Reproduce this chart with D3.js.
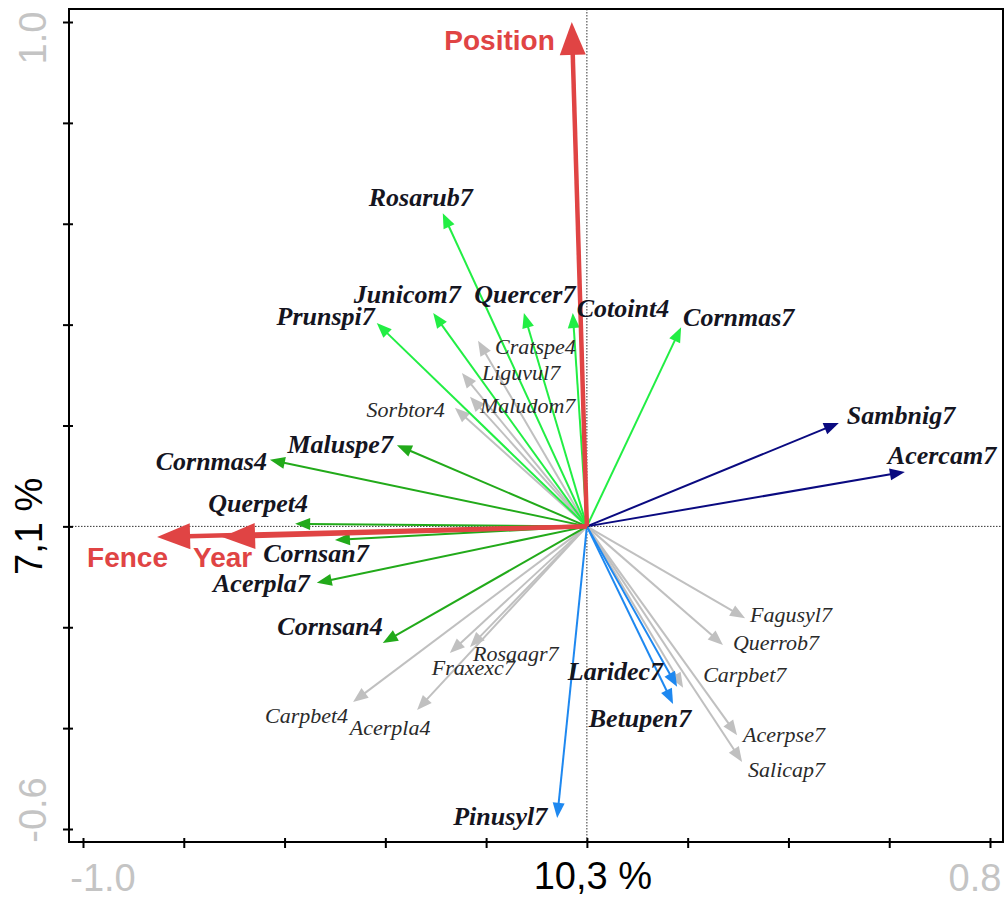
<!DOCTYPE html>
<html>
<head>
<meta charset="utf-8">
<script src="https://cdn.jsdelivr.net/npm/d3@7"></script>
<style>
  body { margin: 0; background: #fff; }
  svg { display: block; }
</style>
</head>
<body>
<svg width="1006" height="899"></svg>
<script>
// environmental vectors
var envNames = ["Position", "Fence", "Year"];
var envX = [-0.030, -0.853, -0.724];
var envY = [1.000, -0.021, -0.021];

// species vectors (group: light, dark, navy, blue, grey)
var spNames = ["Rosarub7", "Junicom7", "Quercer7", "Cotoint4", "Prunspi7", "Cornmas7",
  "Maluspe7", "Cornmas4", "Querpet4", "Cornsan7", "Acerpla7", "Cornsan4",
  "Sambnig7", "Acercam7",
  "Pinusyl7", "Laridec7", "Betupen7",
  "Cratspe4", "Liguvul7", "Maludom7", "Sorbtor4", "Rosaagr7", "Fraxexc7", "Carpbet4", "Acerpla4",
  "Fagusyl7", "Querrob7", "Carpbet7", "Acerpse7", "Salicap7"];
var spX = [-0.286, -0.305, -0.125, -0.028, -0.417, 0.187,
  -0.377, -0.629, -0.579, -0.500, -0.536, -0.405,
  0.500, 0.631,
  -0.059, 0.179, 0.171,
  -0.216, -0.248, -0.232, -0.262, -0.232, -0.272, -0.464, -0.337,
  0.314, 0.270, 0.191, 0.298, 0.308];
var spY = [0.621, 0.423, 0.423, 0.423, 0.403, 0.395,
  0.161, 0.132, 0.005, -0.027, -0.112, -0.231,
  0.205, 0.108,
  -0.578, -0.318, -0.352,
  0.368, 0.304, 0.257, 0.235, -0.239, -0.251, -0.348, -0.364,
  -0.182, -0.235, -0.320, -0.414, -0.467];
var spGroup = ["light", "light", "light", "light", "light", "light",
  "dark", "dark", "dark", "dark", "dark", "dark",
  "navy", "navy",
  "blue", "blue", "blue",
  "grey", "grey", "grey", "grey", "grey", "grey", "grey", "grey",
  "grey", "grey", "grey", "grey", "grey"];

var xTicks = [-1.0, -0.8, -0.6, -0.4, -0.2, 0, 0.2, 0.4, 0.6, 0.8];
var yTicks = [1.0, 0.8, 0.6, 0.4, 0.2, 0, -0.2, -0.4, -0.6];
var xTitle = "10,3 %";
var yTitle = "7,1 %";

// label placement relative to arrow tip: [anchor, dx, dy]
var labelPos = {
  Rosarub7: ["middle", -22, -7], Junicom7: ["middle", -26, -10], Quercer7: ["middle", 1, -10],
  Cotoint4: ["start", 4, 4], Prunspi7: ["end", -2, 2], Cornmas7: ["start", 2, -1],
  Maluspe7: ["end", -4, 8], Cornmas4: ["end", -3, 10], Querpet4: ["middle", -37, -12],
  Cornsan7: ["middle", -19, 22], Acerpla7: ["end", -7, 9], Cornsan4: ["end", 0, -8],
  Sambnig7: ["start", 8, 1], Acercam7: ["start", -17, -8],
  Pinusyl7: ["end", -10, 7], Laridec7: ["end", -14, -7], Betupen7: ["middle", -33, 23],
  Cratspe4: ["start", 17, 13], Liguvul7: ["start", 20, 7], Maludom7: ["start", 10, 16],
  Sorbtor4: ["end", -10, 9], Rosaagr7: ["start", 3, 14], Fraxexc7: ["start", -18, 22],
  Carpbet4: ["end", -5, 21], Acerpla4: ["middle", -27, 25],
  Fagusyl7: ["start", 5, 4], Querrob7: ["start", 10, 5], Carpbet7: ["start", 20, -6],
  Acerpse7: ["start", 6, 7], Salicap7: ["start", 6, 15],
  Position: ["end", -17, 28], Fence: ["start", -70, 30], Year: ["start", -29, 30]
};

var colors = { light: "#22ee44", dark: "#22aa1a", navy: "#0a0a80", blue: "#1e88f0", grey: "#c0c0c0", env: "#e04444" };

var svg = d3.select("svg");
var x = d3.scaleLinear().domain([-1.0, 0.8]).range([83, 990]);
var y = d3.scaleLinear().domain([1.0, -0.6]).range([22, 829]);
var pLeft = 69, pRight = 1003, pTop = 9, pBottom = 842;

// zero lines
svg.append("line").attr("x1", x(0)).attr("x2", x(0)).attr("y1", pTop).attr("y2", pBottom)
  .attr("stroke", "#333").attr("stroke-width", 1).attr("stroke-dasharray", "1.5,1.5");
svg.append("line").attr("x1", pLeft).attr("x2", pRight).attr("y1", y(0)).attr("y2", y(0))
  .attr("stroke", "#333").attr("stroke-width", 1).attr("stroke-dasharray", "1.5,1.5");

function arrow(g, x1, y1, len, half, color, width) {
  var x0 = x(0), y0 = y(0);
  var px = x(x1), py = y(y1);
  var dx = px - x0, dy = py - y0, d = Math.sqrt(dx * dx + dy * dy);
  var ux = dx / d, uy = dy / d;
  var bx = px - ux * len, by = py - uy * len;
  g.append("line").attr("x1", x0).attr("y1", y0).attr("x2", bx + ux * 2).attr("y2", by + uy * 2)
    .attr("stroke", color).attr("stroke-width", width);
  g.append("path")
    .attr("d", "M" + px + "," + py + "L" + (bx - uy * half) + "," + (by + ux * half) +
      "L" + (bx + uy * half) + "," + (by - ux * half) + "Z")
    .attr("fill", color);
}

var gArrows = svg.append("g");
var order = ["grey", "blue", "navy", "dark", "light"];
order.forEach(function (grp) {
  for (var i = 0; i < spNames.length; i++) {
    if (spGroup[i] != grp) continue;
    arrow(gArrows, spX[i], spY[i], 15, 6, colors[grp], 2);
  }
});
for (var i = 0; i < envNames.length; i++) {
  arrow(gArrows, envX[i], envY[i], 33, 13, colors.env, 4.5);
}

// labels
var gLab = svg.append("g");
for (var i = 0; i < spNames.length; i++) {
  var p = labelPos[spNames[i]];
  var grey = spGroup[i] == "grey";
  gLab.append("text")
    .attr("x", x(spX[i]) + p[1]).attr("y", y(spY[i]) + p[2])
    .attr("text-anchor", p[0])
    .attr("font-family", "Liberation Serif, Times New Roman, serif")
    .attr("font-style", "italic")
    .attr("font-weight", grey ? "normal" : "bold")
    .attr("font-size", grey ? 22 : 26)
    .attr("fill", grey ? "#2a2a2a" : "#15151f")
    .text(spNames[i]);
}
for (var i = 0; i < envNames.length; i++) {
  var p = labelPos[envNames[i]];
  gLab.append("text")
    .attr("x", x(envX[i]) + p[1]).attr("y", y(envY[i]) + p[2])
    .attr("text-anchor", p[0])
    .attr("font-family", "Liberation Sans, Arial, sans-serif")
    .attr("font-weight", "bold")
    .attr("font-size", 28)
    .attr("fill", colors.env)
    .text(envNames[i]);
}

// frame
svg.append("rect").attr("x", pLeft).attr("y", pTop).attr("width", pRight - pLeft).attr("height", pBottom - pTop)
  .attr("fill", "none").attr("stroke", "#000").attr("stroke-width", 2);

// axes
var xAxis = svg.append("g").attr("transform", "translate(0," + pBottom + ")")
  .call(d3.axisBottom(x).tickValues(xTicks).tickSize(6).tickFormat(""));
xAxis.select(".domain").remove();
xAxis.selectAll(".tick line").attr("y1", -4).attr("stroke-width", 2);

var yAxis = svg.append("g").attr("transform", "translate(" + pLeft + ",0)")
  .call(d3.axisLeft(y).tickValues(yTicks).tickSize(6).tickFormat(""));
yAxis.select(".domain").remove();
yAxis.selectAll(".tick line").attr("x1", 4).attr("stroke-width", 2);

// tick labels and titles
var tf = "Liberation Sans, Arial, sans-serif";
svg.append("text").attr("x", x(-1.0) + 20).attr("y", 891).attr("text-anchor", "middle")
  .attr("font-family", tf).attr("font-size", 38).attr("fill", "#c4c4c4").text("-1.0");
svg.append("text").attr("x", x(0.8) - 15).attr("y", 891).attr("text-anchor", "middle")
  .attr("font-family", tf).attr("font-size", 38).attr("fill", "#c4c4c4").text("0.8");
svg.append("text").attr("x", x(0) + 6).attr("y", 889).attr("text-anchor", "middle")
  .attr("font-family", tf).attr("font-size", 38).attr("fill", "#000").text(xTitle);

svg.append("text").attr("transform", "translate(46," + (y(1.0) + 16) + ") rotate(-90)")
  .attr("text-anchor", "middle").attr("font-family", tf).attr("font-size", 38).attr("fill", "#c4c4c4").text("1.0");
svg.append("text").attr("transform", "translate(46," + (y(-0.6) - 19) + ") rotate(-90)")
  .attr("text-anchor", "middle").attr("font-family", tf).attr("font-size", 38).attr("fill", "#c4c4c4").text("-0.6");
svg.append("text").attr("transform", "translate(42," + y(0) + ") rotate(-90)")
  .attr("text-anchor", "middle").attr("font-family", tf).attr("font-size", 38).attr("fill", "#000").text(yTitle);
</script>
</body>
</html>
